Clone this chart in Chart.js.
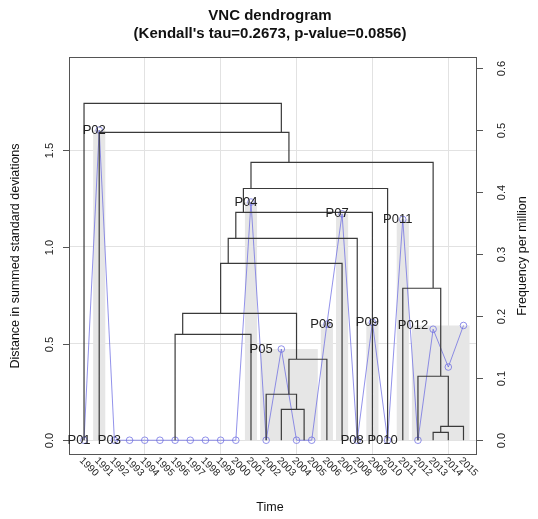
<!DOCTYPE html>
<html>
<head>
<meta charset="utf-8">
<script src="https://cdn.jsdelivr.net/npm/chart.js@4.4.0/dist/chart.umd.min.js"></script>
<style>
  body { margin: 0; background: #fff; }
  #wrap { width: 538px; height: 519px; }
</style>
</head>
<body>
<div id="wrap"><canvas id="vnc" width="538" height="519"></canvas></div>
<script>
// --- data ---
const years = ['1990','1991','1992','1993','1994','1995','1996','1997','1998','1999','2000','2001','2002',
               '2003','2004','2005','2006','2007','2008','2009','2010','2011','2012','2013','2014','2015'];
const freq = [0, 0.5, 0, 0, 0, 0, 0, 0, 0, 0, 0, 0.384, 0, 0.147, 0, 0, 0.187, 0.365, 0, 0.19, 0, 0.356, 0, 0.179, 0.118, 0.185];

// periods (first and last index, 1-based)
const periodNames = ['P01','P02','P03','P04','P05','P06','P07','P08','P09','P010','P011','P012'];
const periodStart = [1, 2, 3, 12, 13, 17, 18, 19, 20, 21, 22, 23];
const periodEnd   = [1, 2, 11, 12, 16, 17, 18, 19, 20, 21, 22, 26];

// dendrogram merges: [left first, left last, right first, right last, height]
const merges = [
  [1, 1, 2, 26, 1.742],
  [2, 2, 3, 26, 1.592],
  [3, 21, 22, 26, 1.437],
  [3, 20, 21, 21, 1.302],
  [3, 19, 20, 20, 1.178],
  [3, 18, 19, 19, 1.044],
  [3, 17, 18, 18, 0.915],
  [3, 12, 13, 17, 0.656],
  [3, 11, 12, 12, 0.548],
  [13, 16, 17, 17, 0.419],
  [13, 13, 14, 16, 0.238],
  [14, 14, 15, 16, 0.160],
  [22, 22, 23, 26, 0.786],
  [23, 23, 24, 26, 0.331],
  [24, 25, 26, 26, 0.072],
  [24, 24, 25, 25, 0.041]
];

const distTicks = [0, 0.5, 1.0, 1.5];
const freqTicks = [0, 0.1, 0.2, 0.3, 0.4, 0.5, 0.6];
const xGridAt = [5, 10, 15, 20, 25];

// --- helpers ---
function clusterX(a, b) { return (a + b) / 2; }   // mean of consecutive leaf positions
function clusterH(a, b) {
  for (const m of merges) {
    if (m[0] === a && m[3] === b) return m[4];
  }
  return 0;
}
function periodMax(k) {
  let top = 0;
  for (let i = periodStart[k]; i <= periodEnd[k]; i++) top = Math.max(top, freq[i - 1]);
  return top;
}

const dendroPts = [];
merges.forEach(function (m) {
  const xl = clusterX(m[0], m[1]), xr = clusterX(m[2], m[3]);
  dendroPts.push({x: xl, y: clusterH(m[0], m[1])});
  dendroPts.push({x: xl, y: m[4]});
  dendroPts.push({x: xr, y: m[4]});
  dendroPts.push({x: xr, y: clusterH(m[2], m[3])});
  dendroPts.push({x: xr, y: null});
});

const freqPts = freq.map(function (v, i) { return {x: i + 1, y: v}; });

const FONT = '"Liberation Sans", Arial, Helvetica, sans-serif';

const decor = {
  id: 'decor',
  beforeDatasetsDraw(chart) {
    const ctx = chart.ctx, xs = chart.scales.x, y2 = chart.scales.y2;
    ctx.save();
    ctx.fillStyle = '#e6e6e6';
    periodStart.forEach(function (s, k) {
      const top = periodMax(k);
      if (top <= 0) return;
      const x0 = xs.getPixelForValue(s - 0.4), x1 = xs.getPixelForValue(periodEnd[k] + 0.4);
      const yt = y2.getPixelForValue(top), yb = y2.getPixelForValue(0);
      ctx.fillRect(x0, yt, x1 - x0, yb - yt);
    });
    ctx.restore();
  },
  afterDraw(chart) {
    const ctx = chart.ctx, a = chart.chartArea;
    const xs = chart.scales.x, yl = chart.scales.y, y2 = chart.scales.y2;
    ctx.save();
    // box
    ctx.strokeStyle = '#555';
    ctx.lineWidth = 1;
    ctx.strokeRect(a.left + 0.5, a.top + 0.5, a.right - a.left - 1, a.bottom - a.top - 1);

    ctx.fillStyle = '#222';
    ctx.font = '11px ' + FONT;
    ctx.textAlign = 'center';
    ctx.textBaseline = 'middle';
    // left axis
    distTicks.forEach(function (v) {
      const y = Math.round(yl.getPixelForValue(v)) + 0.5;
      ctx.beginPath(); ctx.moveTo(a.left - 6, y); ctx.lineTo(a.left, y); ctx.stroke();
      ctx.save(); ctx.translate(a.left - 19, y); ctx.rotate(-Math.PI / 2);
      ctx.fillText(v.toFixed(1), 0, 0); ctx.restore();
    });
    // right axis
    freqTicks.forEach(function (v) {
      const y = Math.round(y2.getPixelForValue(v)) + 0.5;
      ctx.beginPath(); ctx.moveTo(a.right, y); ctx.lineTo(a.right + 6, y); ctx.stroke();
      ctx.save(); ctx.translate(a.right + 25, y); ctx.rotate(-Math.PI / 2);
      ctx.fillText(v.toFixed(1), 0, 0); ctx.restore();
    });
    // x labels, rotated
    ctx.font = '10px ' + FONT;
    ctx.textAlign = 'left';
    years.forEach(function (lab, i) {
      const x = xs.getPixelForValue(i + 1);
      ctx.save(); ctx.translate(x - 3, a.bottom + 4); ctx.rotate(Math.PI / 4);
      ctx.fillText(lab, 0, 0); ctx.restore();
    });

    // period labels
    ctx.font = '13px ' + FONT;
    ctx.textAlign = 'center';
    periodStart.forEach(function (s, k) {
      ctx.fillText(periodNames[k], xs.getPixelForValue(s) - 5, y2.getPixelForValue(periodMax(k)));
    });

    // titles
    const cx = (a.left + a.right) / 2 - 3;
    ctx.font = 'bold 15px ' + FONT;
    ctx.fillStyle = '#111';
    ctx.fillText('VNC dendrogram', cx, 16);
    ctx.fillText("(Kendall's tau=0.2673, p-value=0.0856)", cx, 34);
    ctx.font = '12.5px ' + FONT;
    ctx.fillText('Time', cx, 508);
    ctx.save(); ctx.translate(16, (a.top + a.bottom) / 2); ctx.rotate(-Math.PI / 2);
    ctx.fillText('Distance in summed standard deviations', 0, 0); ctx.restore();
    ctx.save(); ctx.translate(523, (a.top + a.bottom) / 2); ctx.rotate(-Math.PI / 2);
    ctx.fillText('Frequency per million', 0, 0); ctx.restore();
    ctx.restore();
  }
};

new Chart(document.getElementById('vnc').getContext('2d'), {
  type: 'line',
  data: {
    datasets: [
      {
        label: 'dendrogram',
        data: dendroPts,
        yAxisID: 'y',
        borderColor: '#3a3a3a',
        borderWidth: 1.2,
        pointRadius: 0,
        spanGaps: false,
        tension: 0
      },
      {
        label: 'frequency',
        data: freqPts,
        yAxisID: 'y2',
        borderColor: 'rgba(100, 100, 225, 0.7)',
        borderWidth: 1,
        pointRadius: 3.3,
        pointBorderWidth: 1,
        pointBackgroundColor: 'rgba(255,255,255,0)',
        pointBorderColor: 'rgba(100, 100, 225, 0.7)',
        tension: 0
      }
    ]
  },
  options: {
    responsive: false,
    animation: false,
    devicePixelRatio: 1,
    layout: { padding: { top: 57, left: 0, right: 0, bottom: 0 } },
    plugins: { legend: { display: false }, title: { display: false }, tooltip: { enabled: false } },
    scales: {
      x: {
        type: 'linear', position: 'bottom', min: 0.01, max: 26.89,
        afterBuildTicks: function (s) { s.ticks = xGridAt.map(function (v) { return {value: v}; }); },
        ticks: { display: false },
        grid: { color: '#e2e2e2', drawTicks: false },
        border: { display: false },
        afterFit: function (s) { s.height = 64; }
      },
      y: {
        position: 'left', min: -0.0762, max: 1.982,
        afterBuildTicks: function (s) { s.ticks = distTicks.map(function (v) { return {value: v}; }); },
        ticks: { display: false },
        grid: { color: '#e2e2e2', drawTicks: false },
        border: { display: false },
        afterFit: function (s) { s.width = 69; }
      },
      y2: {
        position: 'right', min: -0.0238, max: 0.6178,
        ticks: { display: false },
        grid: { display: false, drawTicks: false },
        border: { display: false },
        afterFit: function (s) { s.width = 61; }
      }
    }
  },
  plugins: [decor]
});
</script>
</body>
</html>
